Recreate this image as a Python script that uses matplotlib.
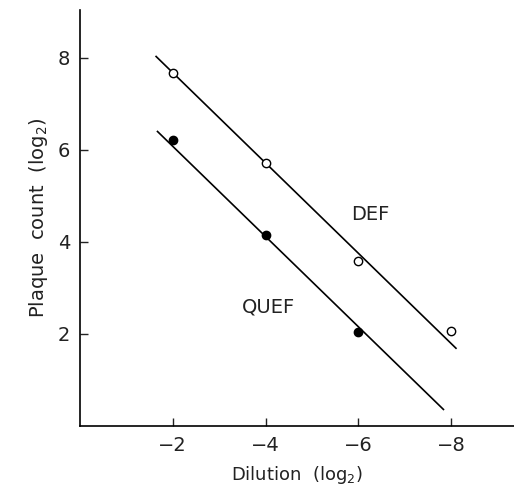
import numpy as np
import matplotlib
matplotlib.use("Agg")
import matplotlib.pyplot as plt

# ---- data ----
dilution_def = [-2, -4, -6, -8]
count_def = [7.68, 5.71, 3.59, 2.07]

dilution_quef = [-2, -4, -6]
count_quef = [6.22, 4.15, 2.04]

# fitted lines (end points as drawn)
fit_def_x = [-1.64, -8.10]
fit_def_y = [8.03, 1.69]
fit_quef_x = [-1.67, -7.83]
fit_quef_y = [6.40, 0.36]

xticks = [-2, -4, -6, -8]
yticks = [2, 4, 6, 8]

plt.rcParams["font.family"] = ["DejaVu Sans"]

fig = plt.figure(figsize=(5.14, 4.90), dpi=100)
ax = fig.add_axes([0.1556, 0.1306, 0.8444, 0.849])

ax.plot(fit_def_x, fit_def_y, color="black", lw=1.2)
ax.plot(fit_quef_x, fit_quef_y, color="black", lw=1.2)

ax.plot(dilution_def, count_def, "o", ms=6, mfc="white", mec="black", mew=1.0)
ax.plot(dilution_quef, count_quef, "o", ms=6, mfc="black", mec="black")

ax.text(-6.26, 4.59, "DEF", fontsize=14, ha="center", va="center", color="#222222")
ax.text(-4.06, 2.59, "QUEF", fontsize=14, ha="center", va="center", color="#222222")

ax.set_xlim(0, -9.35)
ax.set_ylim(0, 9.04)
ax.set_xticks(xticks)
ax.set_yticks(yticks)

ax.spines["top"].set_visible(False)
ax.spines["right"].set_visible(False)
for s in ["left", "bottom"]:
    ax.spines[s].set_linewidth(1.2)

ax.tick_params(direction="in", length=6, width=1.0, labelsize=14, pad=7,
               colors="#222222")

ax.set_xlabel("Dilution  (log$_2$)", fontsize=13, color="#222222", labelpad=7)
ax.set_ylabel("Plaque  count  (log$_2$)", fontsize=14, color="#222222", labelpad=6)

fig.savefig("out.png", dpi=100)
